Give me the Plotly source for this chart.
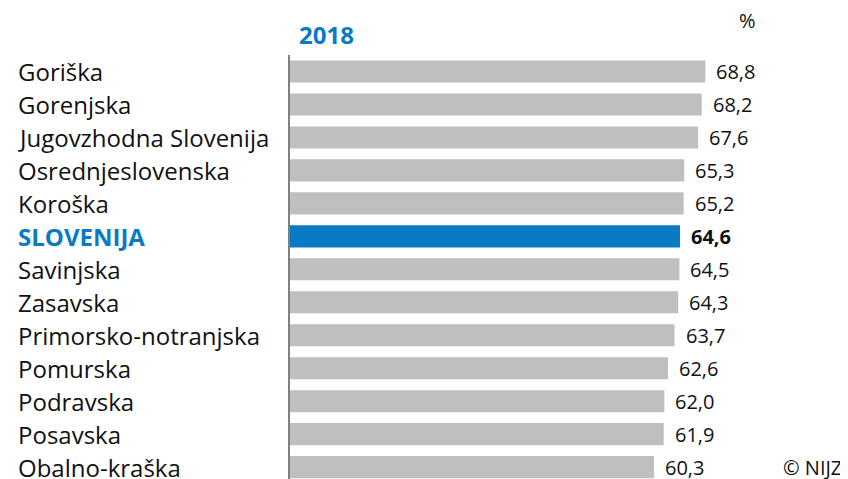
import plotly.graph_objects as go

regions = ["Goriška", "Gorenjska", "Jugovzhodna Slovenija", "Osrednjeslovenska",
           "Koroška", "SLOVENIJA", "Savinjska", "Zasavska", "Primorsko-notranjska",
           "Pomurska", "Podravska", "Posavska", "Obalno-kraška"]
values = [68.8, 68.2, 67.6, 65.3, 65.2, 64.6, 64.5, 64.3, 63.7, 62.6, 62.0, 61.9, 60.3]
year_label = "2018"
unit_label = "%"
source_label = "© NIJZ"
highlight = "SLOVENIJA"

GREY = "#BFBFBF"
BLUE = "#0A7BC2"
FONT = "Open Sans"

OFF = 8  # page body margin offset
W, H = 848 - OFF, 479 - OFF
L, T = 290 - OFF, 55 - OFF
XMAX = 80
PLOT_W = 483
R = W - L - PLOT_W
PLOT_H = H - T


def px_x(x):
    return (x - OFF - L) / PLOT_W


def px_y(y):
    return (H - (y - OFF)) / PLOT_H


colors = [BLUE if r == highlight else GREY for r in regions]

fig = go.Figure(go.Bar(
    x=values, y=regions, orientation="h",
    marker=dict(color=colors, line=dict(width=0)),
    hoverinfo="skip",
))

annotations = []
for r, v in zip(regions, values):
    is_h = r == highlight
    annotations.append(dict(
        x=px_x(16), xref="paper", y=r, yref="y",
        text=f"<b>{r}</b>" if is_h else r, showarrow=False,
        xanchor="left", yanchor="middle",
        font=dict(family=FONT, size=24, color=BLUE if is_h else "#111111"),
    ))
    lab = f"{v:.1f}".replace(".", ",")
    annotations.append(dict(
        x=v, xref="x", y=r, yref="y",
        text=f"<b>{lab}</b>" if is_h else lab, showarrow=False,
        xanchor="left", yanchor="middle", xshift=9,
        font=dict(family=FONT, size=20, color="#111111"),
    ))

annotations.append(dict(
    x=px_x(297), xref="paper", y=px_y(35), yref="paper", yanchor="middle",
    text=f"<b>{year_label}</b>", showarrow=False, xanchor="left",
    font=dict(family=FONT, size=24, color=BLUE),
))
annotations.append(dict(
    x=px_x(737), xref="paper", y=px_y(20), yref="paper", yanchor="middle",
    text=unit_label, showarrow=False, xanchor="left",
    font=dict(family=FONT, size=20, color="#111111"),
))
annotations.append(dict(
    x=px_x(781), xref="paper", y=px_y(467), yref="paper", yanchor="middle",
    text=source_label, showarrow=False, xanchor="left",
    font=dict(family=FONT, size=20, color="#111111"),
))

fig.update_layout(
    width=W, height=H,
    margin=dict(l=L, r=R, t=T, b=0, pad=0),
    paper_bgcolor="white", plot_bgcolor="white",
    bargap=0.33,
    showlegend=False,
    xaxis=dict(range=[0, XMAX], visible=False, fixedrange=True),
    yaxis=dict(
        categoryorder="array", categoryarray=regions,
        range=[12.36, -0.5], showticklabels=False, ticks="",
        showgrid=False, zeroline=False,
        showline=True, linecolor="#808080", linewidth=2,
    ),
    annotations=annotations,
    font=dict(family=FONT),
)

fig.write_html("out.html")
